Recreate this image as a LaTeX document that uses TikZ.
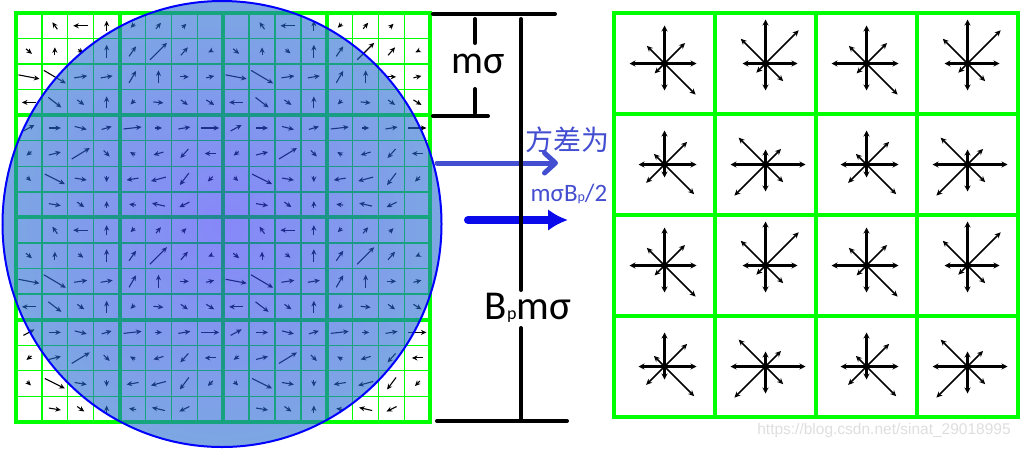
\documentclass[tikz,border=0pt]{standalone}
\usepackage{fontspec}
\setmainfont{Carlito}
\newfontfamily\cjkfont{Noto Sans CJK SC}
\newfontfamily\wmfont{Liberation Sans}
\usetikzlibrary{arrows.meta}
\definecolor{gridgreen}{RGB}{0,255,0}
\definecolor{discin}{RGB}{55,55,245}
\definecolor{discout}{RGB}{30,128,195}
\definecolor{varblue}{RGB}{68,78,208}
\definecolor{pureblue}{RGB}{10,10,235}
\definecolor{wmgray}{RGB}{222,222,222}
\pgfdeclareradialshading{discshade}{\pgfpointorigin}{color(0bp)=(discin); color(34bp)=(discout); color(50bp)=(discout)}
\tikzstyle{cellline} = [draw=gridgreen, line width=1.3pt]
\tikzstyle{blockline} = [draw=gridgreen, line width=4pt]
\tikzstyle{grad} = [line width=1.1pt, -{Stealth[length=5.5pt,width=5pt]}]
\tikzstyle{axisbin} = [line width=2.2pt, -{Stealth[length=6pt,width=6pt]}]
\tikzstyle{diagbin} = [line width=1.5pt, -{Stealth[length=6pt,width=5.5pt]}]
\tikzstyle{bracket} = [line width=4pt, line cap=round]
\tikzstyle{sizetext} = [inner sep=0pt]
% one 8-direction histogram: centre, then E NE N NW W SW S SE
\newcommand{\histstar}[9]{%
  \draw[axisbin] (#1) -- ++(0:#2);
  \draw[diagbin] (#1) -- ++(-45:#3);
  \draw[axisbin] (#1) -- ++(-90:#4);
  \draw[diagbin] (#1) -- ++(-135:#5);
  \draw[axisbin] (#1) -- ++(180:#6);
  \draw[diagbin] (#1) -- ++(135:#7);
  \draw[axisbin] (#1) -- ++(90:#8);
  \draw[diagbin] (#1) -- ++(45:#9);
  \fill (#1) circle (3);
}
\newcommand{\smallp}[1]{{\fontsize{#1}{#1}\selectfont p}}

\begin{document}
\begin{tikzpicture}[x=1pt, y=-1pt]
  \useasboundingbox (0,0) rectangle (1024,448);

  % sample grid, 16x16 cells in 4x4 blocks
  \foreach \i in {0,...,16} {
    \draw[cellline] ({16+\i*25.9},13) -- ({16+\i*25.9},421.8);
    \draw[cellline] (16,{13+\i*25.55}) -- (430.4,{13+\i*25.55});
  }
  \foreach \i in {4,8,12} {
    \draw[blockline] ({16+\i*25.9},13) -- ({16+\i*25.9},421.8);
    \draw[blockline] (16,{13+\i*25.55}) -- (430.4,{13+\i*25.55});
  }
  \draw[blockline] (16,13) rectangle (430.4,421.8);

  % gradients (8x8 pattern, repeated)
  \foreach \bx in {0,1} {
    \foreach \by in {0,1} {
      \foreach \c/\r/\dx/\dy in {1/0/-5/-7, 2/0/-15/0, 3/0/0/-10, 4/0/-4/4, 5/0/5/-6, 6/0/4/-4,
          0/1/6/5, 1/1/0/-8, 2/1/5/4, 3/1/0/-13, 4/1/7/-10, 5/1/17/-17, 6/1/7/-8, 7/1/-4/2,
          0/2/21/4, 1/2/22/13, 2/2/13/-2, 3/2/12/-2, 4/2/7/-12, 5/2/0/-13, 6/2/9/0, 7/2/8/-2,
          0/3/-14/0, 1/3/13/10, 2/3/7/5, 3/3/0/-12, 4/3/-4/4, 5/3/10/1, 6/3/7/5, 7/3/8/5,
          0/4/11/-6, 1/4/12/0, 2/4/12/3, 3/4/10/-3, 4/4/18/-2, 5/4/7/0, 6/4/12/-2, 7/4/18/0,
          0/5/-5/4, 1/5/12/-3, 2/5/18/-11, 3/5/6/6, 4/5/-5/-3, 5/5/-10/3, 6/5/-8/9, 7/5/-11/0,
          0/6/4/4, 1/6/20/10, 2/6/12/2, 3/6/0/6, 4/6/-12/2, 5/6/-15/4, 6/6/-9/12, 7/6/-5/5,
          1/7/12/2, 2/7/7/5, 3/7/0/-7, 4/7/-7/-1, 5/7/-13/-3, 6/7/-10/5} {
        \draw[grad] ({16+(\c+8*\bx+0.5)*25.9-\dx/2},{13+(\r+8*\by+0.5)*25.55-\dy/2}) -- ++(\dx,\dy);
      }
    }
  }

  % gaussian window
  \coordinate (disc) at (222,224);
  \begin{scope}[opacity=0.6]
    \shade[shading=discshade] (disc) ellipse [x radius=219.5, y radius=223];
  \end{scope}
  \draw[blue, line width=2pt] (disc) ellipse [x radius=219.5, y radius=223];

  % descriptor grid
  \draw[blockline] (614,13) rectangle (1018,417);
  \foreach \i in {1,2,3} {
    \draw[blockline] ({614+\i*101},13) -- ({614+\i*101},417);
    \draw[blockline] (614,{13+\i*101}) -- (1018,{13+\i*101});
  }
  \foreach \row in {0,...,3} {
    \foreach \col in {0,...,3} {
      \coordinate (bin\row\col) at ({614+(\col+0.5)*101},{13+(\row+0.5)*101});
    }
  }
  \foreach \row/\rb in {0/1,2/3} {
    \foreach \col/\cb in {0/1,2/3} {
      \histstar{bin\row\col}{32}{29}{38}{25}{35}{14}{27}{44}
      \histstar{bin\row\cb}{32}{47}{44}{35}{23}{13}{27}{25}
      \histstar{bin\rb\col}{32}{32}{34}{15}{26}{26}{13}{42}
      \histstar{bin\rb\cb}{40}{22}{15}{38}{35}{44}{27}{25}
    }
  }

  % arrows to the descriptor
  \coordinate (varS) at (437,163);
  \coordinate (varE) at (558,163);
  \coordinate (meanS) at (468,220);
  \coordinate (meanE) at (568,220);
  \draw[varblue, line width=5pt, line cap=round, -{Straight Barb[length=11pt,width=20pt,round]}] (varS) -- (varE);
  \draw[pureblue, line width=8pt, line cap=round, -{Latex[length=20pt,width=22pt]}] (meanS) -- (meanE);

  % size brackets
  \coordinate (topL) at (433,14);
  \coordinate (topR) at (555,14);
  \coordinate (cellL) at (433,116);
  \coordinate (cellR) at (488,116);
  \coordinate (cellA) at (475,19);
  \coordinate (cellB) at (475,43);
  \coordinate (cellC) at (475,89);
  \coordinate (cellD) at (475,113);
  \coordinate (winA) at (521,19);
  \coordinate (winB) at (521,290);
  \coordinate (winC) at (521,328);
  \coordinate (winD) at (521,421);
  \coordinate (botL) at (437,421);
  \coordinate (botR) at (567,421);
  \draw[bracket] (topL) -- (topR);
  \draw[bracket] (cellL) -- (cellR);
  \draw[bracket] (cellA) -- (cellB);
  \draw[bracket] (cellC) -- (cellD);
  \draw[bracket] (winA) -- (winB);
  \draw[bracket] (winC) -- (winD);
  \draw[bracket] (botL) -- (botR);

  \node[sizetext, font=\fontsize{40}{40}\selectfont] (cellsize) at (478,64) {mσ};
  \node[sizetext, font=\fontsize{41}{41}\selectfont] (winsize) at (528,308) {B\smallp{18}mσ};
  \node[sizetext, text=varblue, font=\cjkfont\fontsize{28}{28}\selectfont] (varlabel) at (567,140) {方差为};
  \node[sizetext, text=varblue, font=\fontsize{25}{25}\selectfont] (varvalue) at (569,194) {mσB\smallp{14}/2};
  \node[sizetext, text=wmgray, font=\wmfont\fontsize{15.5}{15.5}\selectfont] (watermark) at (884,430) {https://blog.csdn.net/sinat\_29018995};
\end{tikzpicture}
\end{document}
